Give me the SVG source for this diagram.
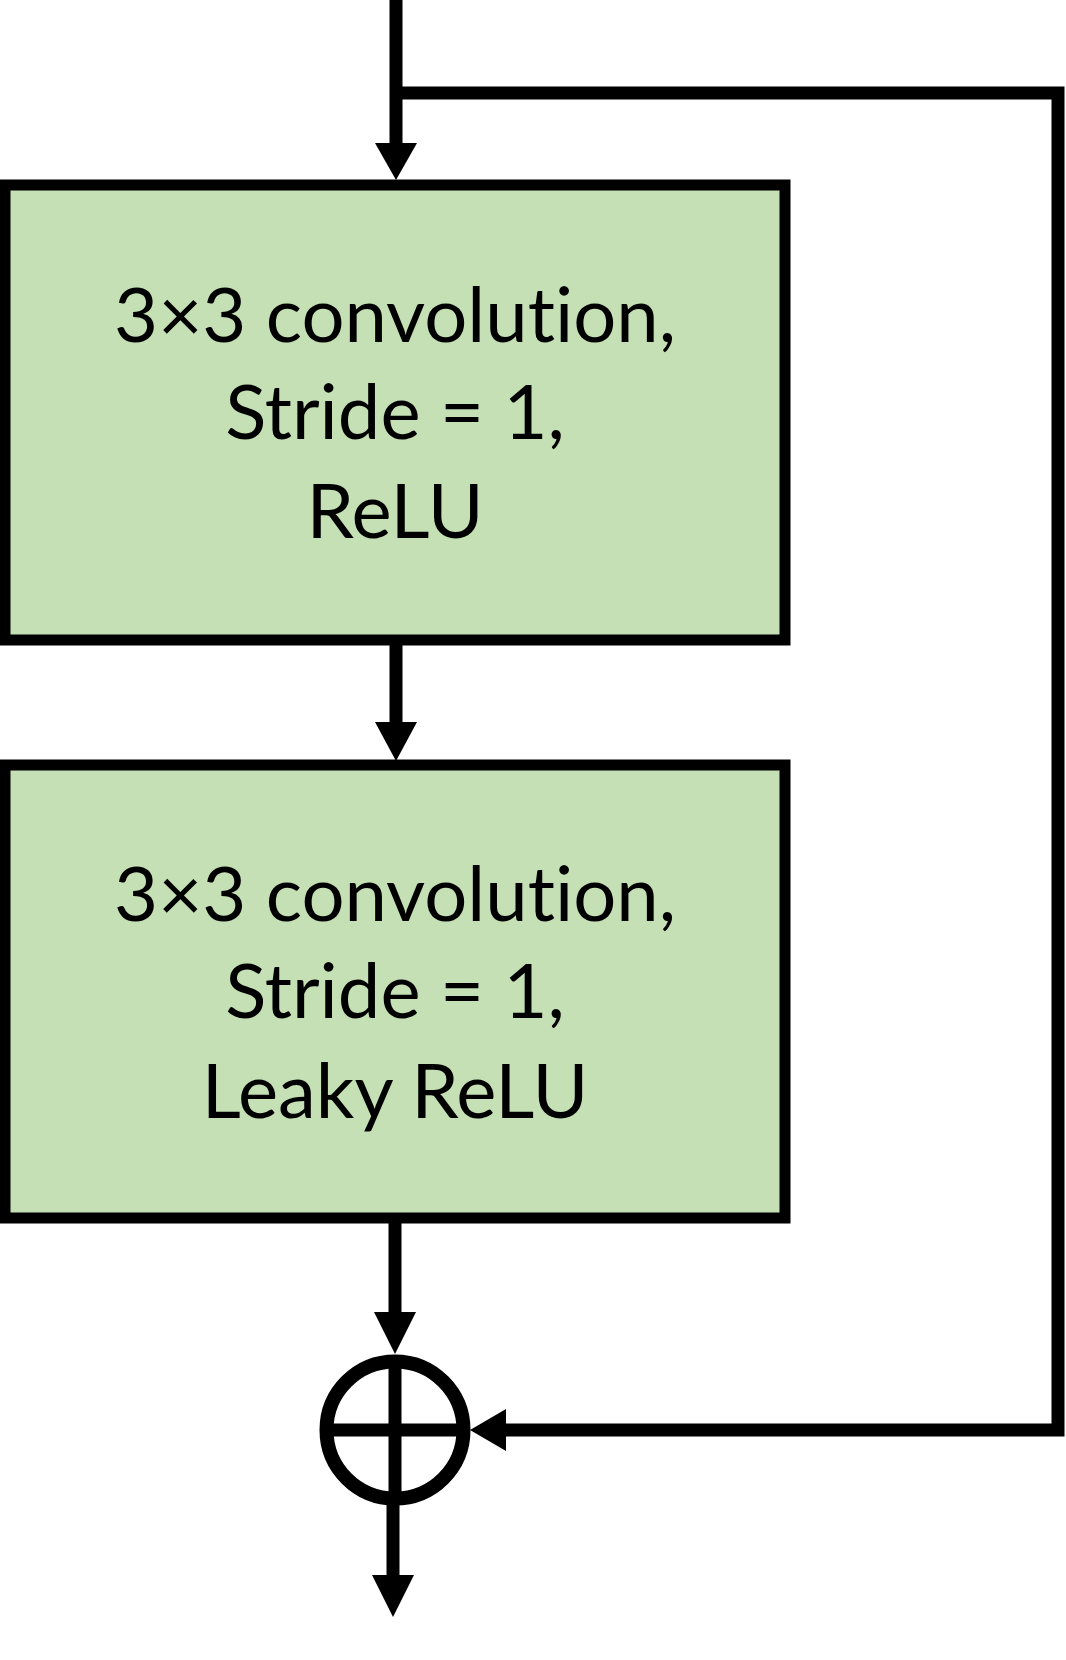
<svg xmlns="http://www.w3.org/2000/svg" width="1066" height="1660" viewBox="0 0 1066 1660">
<style>
.box{fill:#C5E0B4;stroke:#000;stroke-width:11}
.ln{fill:none;stroke:#000;stroke-width:13;stroke-linejoin:miter;stroke-linecap:butt}
.hd{fill:#000;stroke:none}
.t{font-family:Lato,"Liberation Sans",sans-serif;font-size:76px;fill:#000;text-anchor:middle;font-variant-ligatures:none;font-feature-settings:"liga" 0,"clig" 0}
</style>
<rect width="1066" height="1660" fill="#fff"/>
<g id="conv1">
<rect class="box" x="5" y="185" width="780" height="455"/>
<text class="t" x="395" y="342">3×3 convolution,</text>
<text class="t" x="395" y="439">Stride = 1,</text>
<text class="t" x="395" y="538">ReLU</text>
</g>
<g id="conv2">
<rect class="box" x="5" y="765" width="780" height="453"/>
<text class="t" x="395" y="921">3×3 convolution,</text>
<text class="t" x="395" y="1018">Stride = 1,</text>
<text class="t" x="395" y="1118">Leaky ReLU</text>
</g>
<g id="add">
<circle cx="395" cy="1430" r="68.5" fill="#fff" stroke="#000" stroke-width="14"/>
<line class="ln" x1="330" y1="1430" x2="460" y2="1430"/>
<line class="ln" x1="395" y1="1362" x2="395" y2="1498"/>
</g>
<g id="connectors">
<line class="ln" x1="396" y1="0" x2="396" y2="146"/>
<polygon class="hd" points="375,143 417,143 396,180"/>
<polyline class="ln" points="396,93 1058,93 1058,1430 503,1430"/>
<polygon class="hd" points="470,1430 506,1409 506,1451"/>
<line class="ln" x1="396" y1="645" x2="396" y2="725"/>
<polygon class="hd" points="375,722 417,722 396,761"/>
<line class="ln" x1="395" y1="1223" x2="395" y2="1315"/>
<polygon class="hd" points="374,1312 416,1312 395,1354"/>
<line class="ln" x1="393" y1="1498" x2="393" y2="1578"/>
<polygon class="hd" points="372,1575 414,1575 393,1617"/>
</g>
</svg>
